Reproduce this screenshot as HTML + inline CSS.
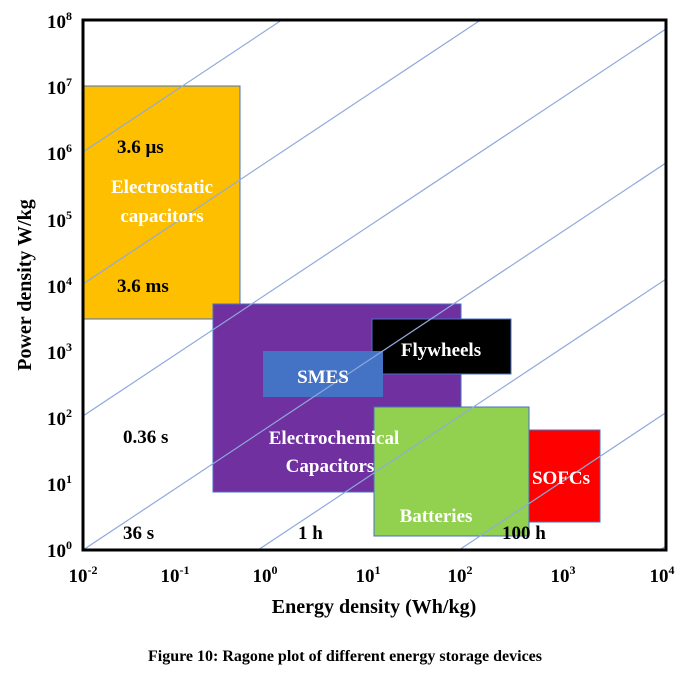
<!DOCTYPE html>
<html><head><meta charset="utf-8"><style>
body{margin:0;background:#fff;}
svg text{font-family:"Liberation Serif",serif;font-weight:bold;}
</style></head><body>
<svg width="685" height="674" xmlns="http://www.w3.org/2000/svg">
<defs><clipPath id="c"><rect x="83" y="20" width="583" height="530"/></clipPath></defs>
<rect x="83" y="86" width="157" height="233" fill="#fdbf00" stroke="#4472c4" stroke-width="1"/>
<rect x="213" y="304" width="248" height="188" fill="#7030a0" stroke="#4472c4" stroke-width="1"/>
<rect x="372" y="319" width="139" height="55" fill="#000" stroke="#4472c4" stroke-width="1"/>
<rect x="263" y="351" width="120" height="46" fill="#4472c4"/>
<rect x="374" y="407" width="155" height="129" fill="#92d050" stroke="#4472c4" stroke-width="1"/>
<rect x="529" y="430" width="71" height="92" fill="#ff0000" stroke="#4472c4" stroke-width="1"/>
<g clip-path="url(#c)" stroke="#8eaadb" stroke-width="1.2">
<line x1="83" y1="152" x2="1083" y2="-512"/>
<line x1="83" y1="284" x2="1083" y2="-380"/>
<line x1="83" y1="416" x2="1083" y2="-248"/>
<line x1="83" y1="550" x2="1083" y2="-114"/>
<line x1="258" y1="550" x2="1258" y2="-114"/>
<line x1="459" y1="550" x2="1459" y2="-114"/>
<line x1="660" y1="550" x2="1660" y2="-114"/>
</g>
<rect x="83" y="20" width="583" height="530" fill="none" stroke="#000" stroke-width="3"/>
<g font-size="19" fill="#fff" text-anchor="middle">
<text x="162" y="193">Electrostatic</text>
<text x="162" y="222">capacitors</text>
<text x="441" y="356">Flywheels</text>
<text x="323" y="383">SMES</text>
<text x="334" y="444">Electrochemical</text>
<text x="330" y="472">Capacitors</text>
<text x="436" y="522">Batteries</text>
<text x="561" y="484">SOFCs</text>
</g>
<g font-size="19" fill="#000">
<text x="117" y="153">3.6 μs</text>
<text x="117" y="292">3.6 ms</text>
<text x="123" y="443">0.36 s</text>
<text x="123" y="539">36 s</text>
<text x="298" y="539">1 h</text>
<text x="502" y="539">100 h</text>
</g>
<g font-size="19" fill="#000" text-anchor="end">
<text x="72" y="28">10<tspan font-size="12" dy="-8">8</tspan></text>
<text x="72" y="94">10<tspan font-size="12" dy="-8">7</tspan></text>
<text x="72" y="160">10<tspan font-size="12" dy="-8">6</tspan></text>
<text x="72" y="227">10<tspan font-size="12" dy="-8">5</tspan></text>
<text x="72" y="293">10<tspan font-size="12" dy="-8">4</tspan></text>
<text x="72" y="359">10<tspan font-size="12" dy="-8">3</tspan></text>
<text x="72" y="425">10<tspan font-size="12" dy="-8">2</tspan></text>
<text x="72" y="491">10<tspan font-size="12" dy="-8">1</tspan></text>
<text x="72" y="557">10<tspan font-size="12" dy="-8">0</tspan></text>
</g>
<g font-size="19" fill="#000" text-anchor="middle">
<text x="83" y="582">10<tspan font-size="12" dy="-8">-2</tspan></text>
<text x="175" y="582">10<tspan font-size="12" dy="-8">-1</tspan></text>
<text x="265" y="582">10<tspan font-size="12" dy="-8">0</tspan></text>
<text x="368" y="582">10<tspan font-size="12" dy="-8">1</tspan></text>
<text x="460" y="582">10<tspan font-size="12" dy="-8">2</tspan></text>
<text x="563" y="582">10<tspan font-size="12" dy="-8">3</tspan></text>
<text x="662" y="582">10<tspan font-size="12" dy="-8">4</tspan></text>
</g>
<text x="374" y="613" font-size="20" text-anchor="middle">Energy density (Wh/kg)</text>
<text transform="translate(31,285) rotate(-90)" font-size="20" text-anchor="middle">Power density W/kg</text>
<text x="345" y="661" font-size="16" text-anchor="middle">Figure 10: Ragone plot of different energy storage devices</text>
</svg>
</body></html>
